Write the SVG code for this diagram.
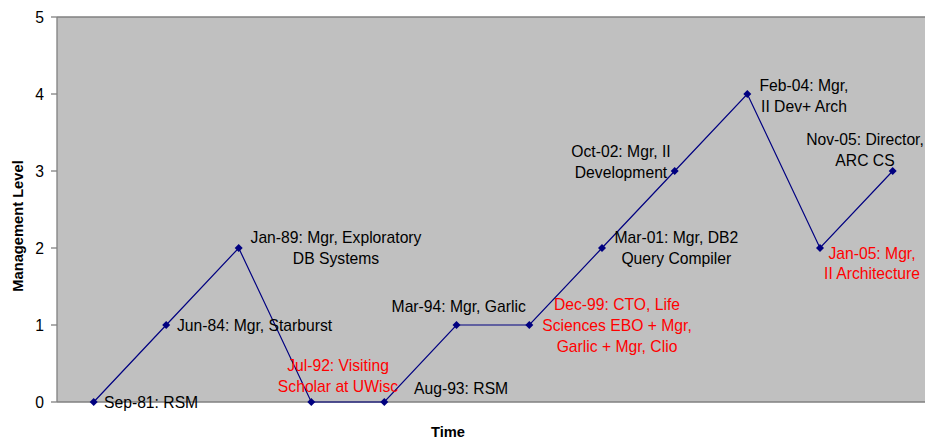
<svg xmlns="http://www.w3.org/2000/svg" width="925" height="439" viewBox="0 0 925 439">
<style>
  text { font-family: "Liberation Sans", Arial, sans-serif; font-size: 15.7px; fill: #000; }
  .red { fill: #FF0000; }
  .mid { text-anchor: middle; }
  .ytick { text-anchor: end; }
  .title { font-weight: bold; font-size: 14.7px; text-anchor: middle; }
  .axis { stroke: #808080; stroke-width: 1.3; fill: none; }
  .conn { stroke: #000080; stroke-width: 1.2; fill: none; }
  .pt { fill: #000080; }
</style>
<defs>
  <path id="dia" d="M0,-4 L4,0 L0,4 L-4,0 Z"/>
</defs>
<rect x="0" y="0" width="925" height="439" fill="#FFFFFF"/>
<g id="plot-area">
  <rect x="57" y="17" width="880" height="385" fill="#C0C0C0"/>
  <line class="axis" x1="57" y1="17" x2="925" y2="17"/>
  <line class="axis" x1="57" y1="17" x2="57" y2="402"/>
  <line class="axis" x1="57" y1="402" x2="925" y2="402"/>
  <g class="axis">
    <line x1="51" y1="17" x2="57" y2="17"/>
    <line x1="51" y1="94" x2="57" y2="94"/>
    <line x1="51" y1="171" x2="57" y2="171"/>
    <line x1="51" y1="248" x2="57" y2="248"/>
    <line x1="51" y1="325" x2="57" y2="325"/>
    <line x1="51" y1="402" x2="57" y2="402"/>
  </g>
  <text class="ytick" x="44" y="23">5</text>
  <text class="ytick" x="44" y="100">4</text>
  <text class="ytick" x="44" y="177">3</text>
  <text class="ytick" x="44" y="254">2</text>
  <text class="ytick" x="44" y="331">1</text>
  <text class="ytick" x="44" y="408">0</text>
  <text class="title" transform="translate(23,226) rotate(-90)">Management Level</text>
  <text class="title" x="448" y="437">Time</text>
</g>
<g id="connectors">
  <polyline class="conn" points="93.7,402 166.2,325 238.7,248 311.3,402 384.3,402 456.5,325 529.3,325 602,248 674.7,171 747.3,94 820,248 892.7,171"/>
</g>
<g id="sep81"><use href="#dia" class="pt" x="93.7" y="402"/><text x="104" y="408">Sep-81: RSM</text></g>
<g id="jun84"><use href="#dia" class="pt" x="166.2" y="325"/><text x="177" y="331">Jun-84: Mgr, Starburst</text></g>
<g id="jan89"><use href="#dia" class="pt" x="238.7" y="248"/><text class="mid" x="336" y="243">Jan-89: Mgr, Exploratory</text><text class="mid" x="336" y="264">DB Systems</text></g>
<g id="jul92"><use href="#dia" class="pt" x="311.3" y="402"/><text class="mid red" x="338" y="371">Jul-92: Visiting</text><text class="mid red" x="338" y="392">Scholar at UWisc</text></g>
<g id="aug93"><use href="#dia" class="pt" x="384.3" y="402"/><text x="414" y="394">Aug-93: RSM</text></g>
<g id="mar94"><use href="#dia" class="pt" x="456.5" y="325"/><text class="mid" x="458.7" y="312">Mar-94: Mgr, Garlic</text></g>
<g id="dec99"><use href="#dia" class="pt" x="529.3" y="325"/><text class="mid red" x="617" y="310">Dec-99: CTO, Life</text><text class="mid red" x="617" y="331">Sciences EBO + Mgr,</text><text class="mid red" x="617" y="352">Garlic + Mgr, Clio</text></g>
<g id="mar01"><use href="#dia" class="pt" x="602" y="248"/><text class="mid" x="676.3" y="243">Mar-01: Mgr, DB2</text><text class="mid" x="676.3" y="264">Query Compiler</text></g>
<g id="oct02"><use href="#dia" class="pt" x="674.7" y="171"/><text class="mid" x="621" y="157">Oct-02: Mgr, II</text><text class="mid" x="621" y="177.5">Development</text></g>
<g id="feb04"><use href="#dia" class="pt" x="747.3" y="94"/><text class="mid" x="804" y="91">Feb-04: Mgr,</text><text class="mid" x="804" y="111.5">II Dev+ Arch</text></g>
<g id="jan05"><use href="#dia" class="pt" x="820" y="248"/><text class="mid red" x="872" y="258.5">Jan-05: Mgr,</text><text class="mid red" x="872" y="278.5">II Architecture</text></g>
<g id="nov05"><use href="#dia" class="pt" x="892.7" y="171"/><text class="mid" x="865" y="145">Nov-05: Director,</text><text class="mid" x="865" y="166">ARC CS</text></g>
</svg>
